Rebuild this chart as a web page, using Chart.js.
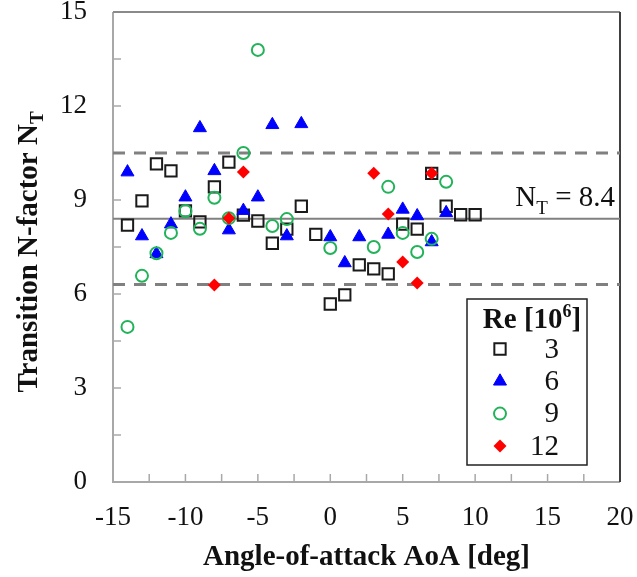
<!DOCTYPE html>
<html>
<head>
<meta charset="utf-8">
<script src="https://cdn.jsdelivr.net/npm/chart.js@4.4.1/dist/chart.umd.min.js"></script>
<style>
  html, body { margin: 0; padding: 0; background: #fff; }
  #wrap { width: 637px; height: 577px; }
</style>
</head>
<body>
<div id="wrap"><canvas id="ntChart"></canvas></div>
<script>
// angle of attack [deg] / transition N-factor, one pair of arrays per Re [10^6]
const aoaRe3 = [-14, -13, -12, -11, -10, -9, -8, -7, -6, -5, -4, -3, -2, -1, 0, 1, 2, 3, 4, 5, 6, 7, 8, 9, 10];
const ntRe3 = [8.2, 8.97, 10.15, 9.93, 8.65, 8.3, 9.42, 10.21, 8.52, 8.33, 7.62, 8.07, 8.8, 7.9, 5.68, 5.97, 6.93, 6.8, 6.64, 8.23, 8.07, 9.85, 8.8, 8.53, 8.53];

const aoaRe6 = [-14, -13, -12, -11, -10, -9, -8, -7, -6, -5, -4, -3, -2, 0, 1, 2, 4, 5, 6, 7, 8];
const ntRe6 = [9.89, 7.85, 7.28, 8.23, 9.09, 11.3, 9.93, 8.04, 8.66, 9.09, 11.4, 7.85, 11.43, 7.82, 6.99, 7.82, 7.9, 8.7, 8.49, 7.66, 8.59];

const aoaRe9 = [-14, -13, -12, -11, -10, -9, -8, -7, -6, -5, -4, -3, 0, 3, 4, 5, 6, 7, 8];
const ntRe9 = [4.95, 6.58, 7.3, 7.95, 8.65, 8.08, 9.07, 8.42, 10.5, 13.79, 8.17, 8.39, 7.47, 7.5, 9.42, 7.95, 7.34, 7.76, 9.58];

const aoaRe12 = [-8, -7, -6, 3, 4, 5, 6, 7];
const ntRe12 = [6.29, 8.42, 9.89, 9.85, 8.55, 7.02, 6.35, 9.85];

// reference levels
const ntMean = 8.4;
const ntUpper = 10.5;
const ntLower = 6.3;

// axes
const xMin = -15, xMax = 20;
const yMin = 0, yMax = 15;
const xTickLabels = ['-15', '-10', '-5', '0', '5', '10', '15', '20'];
const yTickLabels = ['0', '3', '6', '9', '12', '15'];

const serif = "'Liberation Serif', 'Times New Roman', serif";

function toPoints(xs, ys) {
  return xs.map((x, i) => ({ x: x, y: ys[i] }));
}

function hLine(y) {
  return [{ x: xMin, y: y }, { x: xMax, y: y }];
}

// frame, inward ticks, titles, N_T label and the boxed legend
const figureDecor = {
  id: 'figureDecor',
  beforeDatasetsDraw(chart) {
    const ctx = chart.ctx;
    const ca = chart.chartArea;
    const xs = chart.scales.x, ys = chart.scales.y;
    ctx.save();
    ctx.lineCap = 'butt';
    // ticks pointing into the plot
    ctx.strokeStyle = '#a8a8a8';
    ctx.lineWidth = 1.5;
    xs.ticks.forEach(t => {
      const px = xs.getPixelForValue(t.value);
      ctx.beginPath();
      ctx.moveTo(px, ca.bottom);
      ctx.lineTo(px, ca.bottom - 8);
      ctx.stroke();
    });
    ys.ticks.forEach(t => {
      const py = ys.getPixelForValue(t.value);
      ctx.beginPath();
      ctx.moveTo(ca.left, py);
      ctx.lineTo(ca.left + 8, py);
      ctx.stroke();
    });
    // frame
    ctx.lineWidth = 2;
    ctx.strokeStyle = '#a8a8a8';
    ctx.beginPath();
    ctx.moveTo(ca.left, ca.top);
    ctx.lineTo(ca.left, ca.bottom);
    ctx.lineTo(ca.right, ca.bottom);
    ctx.stroke();
    ctx.strokeStyle = '#8a8a8a';
    ctx.beginPath();
    ctx.moveTo(ca.left, ca.top);
    ctx.lineTo(ca.right, ca.top);
    ctx.stroke();
    ctx.strokeStyle = '#404040';
    ctx.beginPath();
    ctx.moveTo(ca.right, ca.top);
    ctx.lineTo(ca.right, ca.bottom);
    ctx.stroke();
    ctx.restore();
  },
  afterDatasetsDraw(chart) {
    const ctx = chart.ctx;
    const ca = chart.chartArea;
    const ys = chart.scales.y;
    ctx.save();
    ctx.fillStyle = '#111';
    ctx.textBaseline = 'alphabetic';

    // N_T = 8.4 label
    const big = '29px ' + serif, small = '19px ' + serif;
    ctx.font = big;
    const wN = ctx.measureText('N').width;
    const wEq = ctx.measureText(' = ' + ntMean).width;
    ctx.font = small;
    const wT = ctx.measureText('T').width;
    let lx0 = ca.right - 5 - (wN + wT + wEq);
    const base = ys.getPixelForValue(ntMean) - 13;
    ctx.font = big;
    ctx.textAlign = 'left';
    ctx.fillText('N', lx0, base);
    ctx.font = small;
    ctx.fillText('T', lx0 + wN, base + 8);
    ctx.font = big;
    ctx.fillText(' = ' + ntMean, lx0 + wN + wT, base);

    // legend box
    const bx = ca.right - 153, by = ca.top + 287, bw = 120, bh = 166;
    ctx.fillStyle = '#fff';
    ctx.fillRect(bx, by, bw, bh);
    ctx.strokeStyle = '#222';
    ctx.lineWidth = 1.5;
    ctx.strokeRect(bx, by, bw, bh);

    ctx.fillStyle = '#111';
    const tBig = 'bold 29px ' + serif, tSup = 'bold 18px ' + serif;
    ctx.font = tBig;
    const w1 = ctx.measureText('Re [10').width;
    const w3 = ctx.measureText(']').width;
    ctx.font = tSup;
    const w2 = ctx.measureText('6').width;
    let tx = bx + 65 - (w1 + w2 + w3) / 2;
    const tb = by + 29;
    ctx.font = tBig;
    ctx.fillText('Re [10', tx, tb);
    ctx.font = tSup;
    ctx.fillText('6', tx + w1, tb - 11);
    ctx.font = tBig;
    ctx.fillText(']', tx + w1 + w2, tb);

    const series = chart.data.datasets.filter(d => d.legendRow !== undefined);
    ctx.font = '29px ' + serif;
    ctx.textAlign = 'right';
    ctx.textBaseline = 'middle';
    series.forEach(d => {
      const ry = by + 50 + d.legendRow * 32.3;
      ctx.save();
      ctx.fillStyle = d.pointBackgroundColor;
      ctx.strokeStyle = d.pointBorderColor;
      ctx.lineWidth = d.pointBorderWidth;
      Chart.helpers.drawPoint(ctx, {
        pointStyle: d.pointStyle,
        radius: d.pointRadius,
        rotation: 0,
        borderWidth: d.pointBorderWidth
      }, bx + 33, ry);
      ctx.restore();
      ctx.fillStyle = '#111';
      ctx.fillText(d.label, bx + 92, ry + 1);
    });
    ctx.restore();
  },
  afterDraw(chart) {
    const ctx = chart.ctx;
    const ca = chart.chartArea;
    ctx.save();
    ctx.fillStyle = '#111';
    ctx.textBaseline = 'alphabetic';

    // x title
    ctx.font = 'bold 29px ' + serif;
    ctx.textAlign = 'center';
    ctx.fillText('Angle-of-attack AoA [deg]', (ca.left + ca.right) / 2, ca.bottom + 83);

    // y title with subscript
    const main = 'Transition N-factor N';
    ctx.font = 'bold 29px ' + serif;
    const wm = ctx.measureText(main).width;
    ctx.font = 'bold 19px ' + serif;
    const ws = ctx.measureText('T').width;
    ctx.translate(37, (ca.top + ca.bottom) / 2 + 5);
    ctx.rotate(-Math.PI / 2);
    ctx.textAlign = 'left';
    ctx.font = 'bold 29px ' + serif;
    ctx.fillText(main, -(wm + ws) / 2, 0);
    ctx.font = 'bold 19px ' + serif;
    ctx.fillText('T', -(wm + ws) / 2 + wm, 6);
    ctx.restore();
  }
};

const ntCtx = document.getElementById('ntChart').getContext('2d');
const ntChart = new Chart(ntCtx, {
  type: 'scatter',
  data: {
    datasets: [
      {
        label: 'mean',
        data: hLine(ntMean),
        showLine: true,
        borderColor: '#808080',
        borderWidth: 2,
        pointRadius: 0,
        order: 10
      },
      {
        label: 'upper',
        data: hLine(ntUpper),
        showLine: true,
        borderColor: '#808080',
        borderWidth: 3,
        borderDash: [12, 9],
        pointRadius: 0,
        order: 10
      },
      {
        label: 'lower',
        data: hLine(ntLower),
        showLine: true,
        borderColor: '#808080',
        borderWidth: 3,
        borderDash: [12, 9],
        pointRadius: 0,
        order: 10
      },
      {
        label: '3',
        legendRow: 0,
        data: toPoints(aoaRe3, ntRe3),
        pointStyle: 'rect',
        pointRadius: 8,
        pointBorderWidth: 2,
        pointBorderColor: '#1a1a1a',
        pointBackgroundColor: 'rgba(0,0,0,0)',
        order: 4
      },
      {
        label: '6',
        legendRow: 1,
        data: toPoints(aoaRe6, ntRe6),
        pointStyle: 'triangle',
        pointRadius: 7.5,
        pointBorderWidth: 1,
        pointBorderColor: '#0000ff',
        pointBackgroundColor: '#0000ff',
        order: 3
      },
      {
        label: '9',
        legendRow: 2,
        data: toPoints(aoaRe9, ntRe9),
        pointStyle: 'circle',
        pointRadius: 6,
        pointBorderWidth: 2,
        pointBorderColor: '#22b35a',
        pointBackgroundColor: 'rgba(0,0,0,0)',
        order: 2
      },
      {
        label: '12',
        legendRow: 3,
        data: toPoints(aoaRe12, ntRe12),
        pointStyle: 'rectRot',
        pointRadius: 6.5,
        pointBorderWidth: 0,
        pointBorderColor: '#ff0000',
        pointBackgroundColor: '#ff0000',
        order: 1
      }
    ]
  },
  options: {
    responsive: true,
    maintainAspectRatio: false,
    animation: false,
    events: [],
    layout: {
      padding: { left: 0, right: 17, top: 12, bottom: 0 }
    },
    plugins: {
      legend: { display: false },
      tooltip: { enabled: false }
    },
    scales: {
      x: {
        type: 'linear',
        min: xMin,
        max: xMax,
        afterFit: function(scale) { scale.height = 95; },
        grid: { display: false, drawTicks: true, tickLength: 20 },
        border: { display: false },
        ticks: {
          stepSize: 2.5,
          padding: 0,
          maxRotation: 0,
          autoSkip: false,
          color: '#111',
          font: { family: serif, size: 27 },
          callback: function(value) {
            const s = String(value);
            return xTickLabels.includes(s) ? s : '';
          }
        }
      },
      y: {
        type: 'linear',
        min: yMin,
        max: yMax,
        afterFit: function(scale) { scale.width = 113; },
        grid: { display: false, drawTicks: true, tickLength: 26 },
        border: { display: false },
        ticks: {
          stepSize: 1.5,
          padding: 0,
          autoSkip: false,
          color: '#111',
          font: { family: serif, size: 27, lineHeight: 0.85 },
          callback: function(value) {
            const s = String(value);
            return yTickLabels.includes(s) ? s : '';
          }
        }
      }
    }
  },
  plugins: [figureDecor]
});
</script>
</body>
</html>
